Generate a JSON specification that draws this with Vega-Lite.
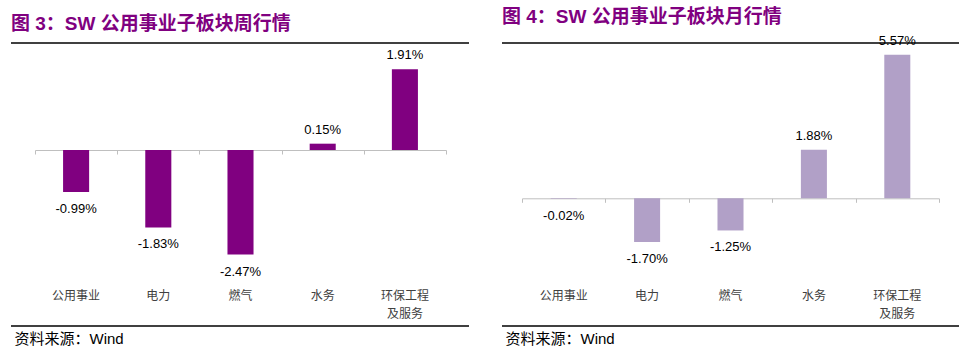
{
  "$schema": "https://vega.github.io/schema/vega-lite/v6.json",
  "background": "white",
  "padding": {"left": 10, "top": 7, "right": 0, "bottom": 0},
  "spacing": 31,
  "config": {
    "view": {"stroke": null},
    "locale": {"number": {"decimal": ".", "thousands": ",", "grouping": [3], "currency": ["", ""], "minus": "-", "percent": "%"}},
    "title": {"anchor": "start", "frame": "group", "font": "Liberation Sans, Noto Sans CJK SC", "fontSize": 19, "fontWeight": "bold", "color": "#800080", "offset": 8, "baseline": "alphabetic"}
  },
  "datasets": {
    "weekly": [
      {"cat": "公用事业", "value": -0.0099},
      {"cat": "电力", "value": -0.0183},
      {"cat": "燃气", "value": -0.0247},
      {"cat": "水务", "value": 0.0015},
      {"cat": "环保工程及服务", "value": 0.0191}
    ],
    "monthly": [
      {"cat": "公用事业", "value": -0.0002},
      {"cat": "电力", "value": -0.0170},
      {"cat": "燃气", "value": -0.0125},
      {"cat": "水务", "value": 0.0188},
      {"cat": "环保工程及服务", "value": 0.0557}
    ]
  },
  "hconcat": [
    {
      "title": {"text": "图 3：SW 公用事业子板块周行情"},
      "width": 458,
      "height": 283,
      "data": {"name": "weekly"},
      "encoding": {
        "y": {"field": "value", "type": "quantitative",
          "scale": {"domain": [-0.0416, 0.0253], "nice": false},
          "axis": null}
      },
      "layer": [
        {
          "data": {"values": [{"edge": -0.0416}, {"edge": 0.0253}]},
          "mark": {"type": "rule", "color": "#000000", "strokeWidth": 1.5},
          "encoding": {"y": {"field": "edge", "type": "quantitative"}}
        },
        {
          "mark": {"type": "bar", "color": "#800080", "width": {"band": 0.317}},
          "encoding": {
            "x": {"field": "cat", "type": "nominal", "sort": null,
              "scale": {"domain": ["公用事业", "电力", "燃气", "水务", "环保工程及服务"], "range": [24, 435], "paddingInner": 0, "paddingOuter": 0},
              "axis": {"orient": "bottom", "domain": false, "ticks": false, "grid": false, "labelPadding": -36, "labelBaseline": "top", "labelAngle": 0, "labelFont": "Noto Sans CJK SC", "labelFontSize": 12, "labelColor": "#404040", "labelLineHeight": 18, "labelOverlap": false, "labelBound": false, "labelFlush": false,
                "labelExpr": "datum.value == '环保工程及服务' ? ['环保工程', '及服务'] : datum.value",
                "title": "资料来源：Wind", "titleFont": "Liberation Sans, Noto Sans CJK SC", "titleFontSize": 15, "titleFontWeight": "normal", "titleColor": "#000000", "titleAnchor": "start", "titleAlign": "left", "titleBaseline": "middle", "titleX": 3, "titleY": 12}},
            "y2": {"datum": 0}
          }
        },
        {
          "transform": [{"filter": "datum.value >= 0"}],
          "mark": {"type": "text", "baseline": "middle", "dy": -14, "font": "Liberation Sans", "fontSize": 13, "color": "#000000"},
          "encoding": {
            "x": {"field": "cat", "type": "nominal", "sort": null,
              "scale": {"domain": ["公用事业", "电力", "燃气", "水务", "环保工程及服务"], "range": [24, 435], "paddingInner": 0, "paddingOuter": 0},
              "axis": {"orient": "top", "offset": -107, "domain": true, "domainColor": "#bfbfbf", "domainWidth": 1, "ticks": true, "tickColor": "#bfbfbf", "tickSize": -4, "tickWidth": 1, "tickBand": "extent", "labels": false, "grid": false, "title": null}},
            "text": {"field": "value", "type": "quantitative", "format": ".2%"}
          }
        },
        {
          "transform": [{"filter": "datum.value < 0"}],
          "mark": {"type": "text", "baseline": "middle", "dy": 17, "font": "Liberation Sans", "fontSize": 13, "color": "#000000"},
          "encoding": {
            "x": {"field": "cat", "type": "nominal", "sort": null,
              "scale": {"domain": ["公用事业", "电力", "燃气", "水务", "环保工程及服务"], "range": [24, 435], "paddingInner": 0, "paddingOuter": 0},
              "axis": null},
            "text": {"field": "value", "type": "quantitative", "format": ".2%"}
          }
        }
      ],
      "resolve": {"axis": {"x": "independent"}}
    },
    {
      "title": {"text": "图 4：SW 公用事业子板块月行情"},
      "width": 457,
      "height": 283,
      "data": {"name": "monthly"},
      "encoding": {
        "y": {"field": "value", "type": "quantitative",
          "scale": {"domain": [-0.0496, 0.0603], "nice": false},
          "axis": null}
      },
      "layer": [
        {
          "data": {"values": [{"edge": -0.0496}, {"edge": 0.0603}]},
          "mark": {"type": "rule", "color": "#000000", "strokeWidth": 1.5},
          "encoding": {"y": {"field": "edge", "type": "quantitative"}}
        },
        {
          "mark": {"type": "bar", "color": "#b1a0c7", "width": {"band": 0.312}},
          "encoding": {
            "x": {"field": "cat", "type": "nominal", "sort": null,
              "scale": {"domain": ["公用事业", "电力", "燃气", "水务", "环保工程及服务"], "range": [20, 437], "paddingInner": 0, "paddingOuter": 0},
              "axis": {"orient": "bottom", "domain": false, "ticks": false, "grid": false, "labelPadding": -36, "labelBaseline": "top", "labelAngle": 0, "labelFont": "Noto Sans CJK SC", "labelFontSize": 12, "labelColor": "#404040", "labelLineHeight": 18, "labelOverlap": false, "labelBound": false, "labelFlush": false,
                "labelExpr": "datum.value == '环保工程及服务' ? ['环保工程', '及服务'] : datum.value",
                "title": "资料来源：Wind", "titleFont": "Liberation Sans, Noto Sans CJK SC", "titleFontSize": 15, "titleFontWeight": "normal", "titleColor": "#000000", "titleAnchor": "start", "titleAlign": "left", "titleBaseline": "middle", "titleX": 3, "titleY": 12}},
            "y2": {"datum": 0}
          }
        },
        {
          "transform": [{"filter": "datum.value >= 0"}],
          "mark": {"type": "text", "baseline": "middle", "dy": -14, "font": "Liberation Sans", "fontSize": 13, "color": "#000000"},
          "encoding": {
            "x": {"field": "cat", "type": "nominal", "sort": null,
              "scale": {"domain": ["公用事业", "电力", "燃气", "水务", "环保工程及服务"], "range": [20, 437], "paddingInner": 0, "paddingOuter": 0},
              "axis": {"orient": "top", "offset": -155.3, "domain": true, "domainColor": "#bfbfbf", "domainWidth": 1, "ticks": true, "tickColor": "#bfbfbf", "tickSize": -4, "tickWidth": 1, "tickBand": "extent", "labels": false, "grid": false, "title": null}},
            "text": {"field": "value", "type": "quantitative", "format": ".2%"}
          }
        },
        {
          "transform": [{"filter": "datum.value < 0"}],
          "mark": {"type": "text", "baseline": "middle", "dy": 17, "font": "Liberation Sans", "fontSize": 13, "color": "#000000"},
          "encoding": {
            "x": {"field": "cat", "type": "nominal", "sort": null,
              "scale": {"domain": ["公用事业", "电力", "燃气", "水务", "环保工程及服务"], "range": [20, 437], "paddingInner": 0, "paddingOuter": 0},
              "axis": null},
            "text": {"field": "value", "type": "quantitative", "format": ".2%"}
          }
        }
      ],
      "resolve": {"axis": {"x": "independent"}}
    }
  ]
}
